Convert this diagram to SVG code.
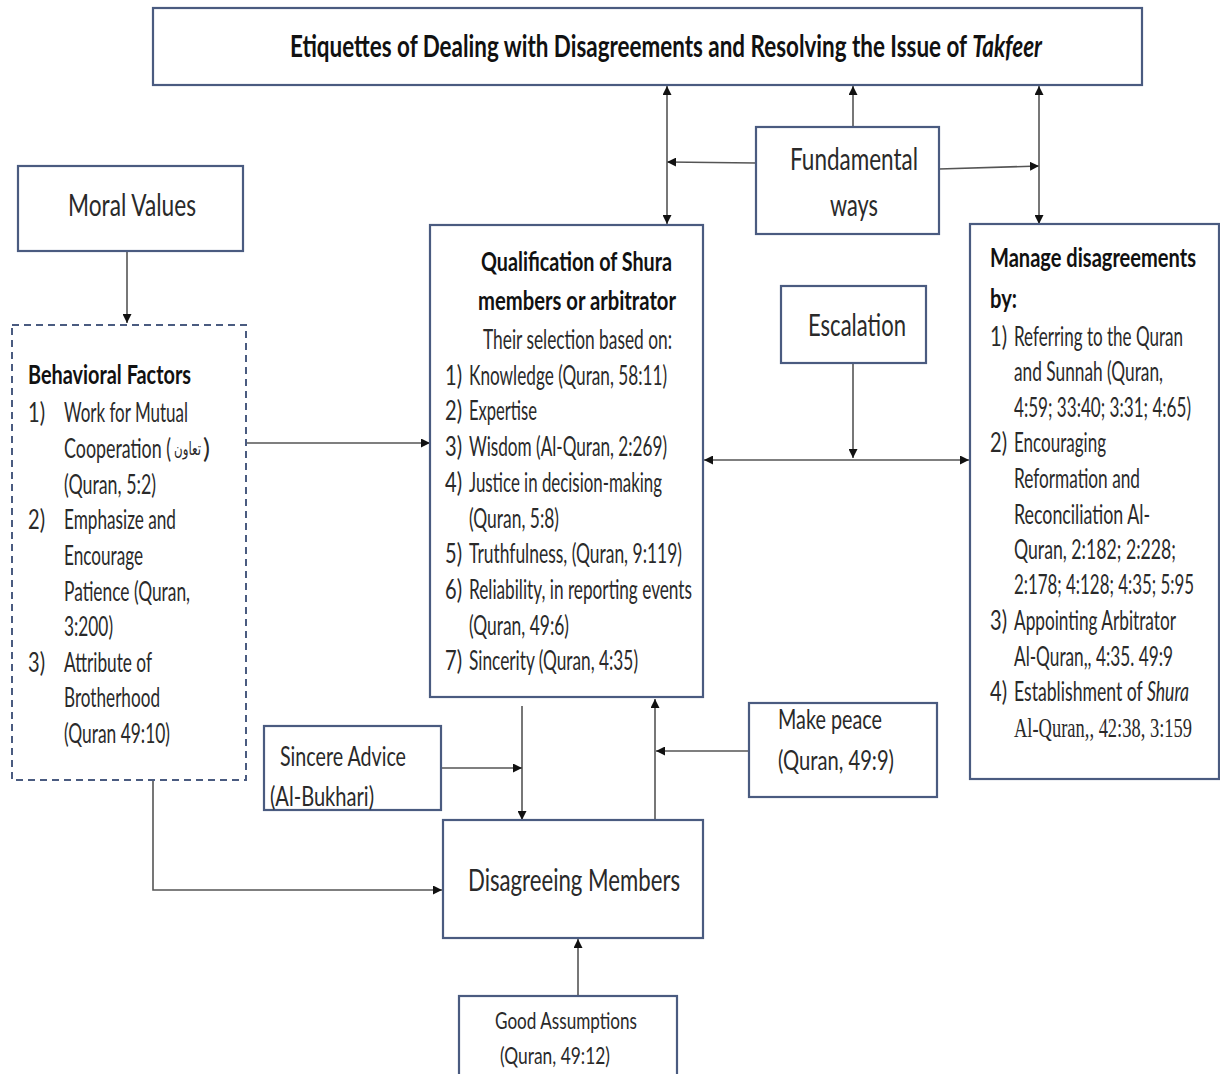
<svg xmlns="http://www.w3.org/2000/svg" width="1220" height="1074" viewBox="0 0 1220 1074">
<defs>
<style>
.box{fill:#fff;stroke:#4a5b80;stroke-width:2.2}
.dash{fill:#fff;stroke:#4a5b80;stroke-width:2;stroke-dasharray:7 5}
.t{font-family:Lato,"Liberation Sans",sans-serif;font-size:27px;fill:#2a2a2a}
.b{font-weight:bold;fill:#111}
.big{font-size:31px}
.sm{font-size:24px}
.ser{font-family:"Liberation Serif",serif}
.ar{font-family:"DejaVu Sans",sans-serif;font-size:18px;fill:#2a2a2a}
.c{fill:none;stroke:#555;stroke-width:1.6}
</style>
<marker id="ah" viewBox="0 0 10 10" refX="10" refY="5" markerWidth="9" markerHeight="9" markerUnits="userSpaceOnUse" orient="auto-start-reverse">
<path d="M0,0 L10,5 L0,10 Z" fill="#111"/>
</marker>
</defs>
<rect width="1220" height="1074" fill="#fff"/>

<g id="connectors">
<path class="c" d="M127,251 V323" marker-end="url(#ah)"/>
<path class="c" d="M246,443 H430" marker-end="url(#ah)"/>
<path class="c" d="M153,780 V890 H442" marker-end="url(#ah)"/>
<path class="c" d="M756,163 L667,162" marker-end="url(#ah)"/>
<path class="c" d="M667,86 V224" marker-start="url(#ah)" marker-end="url(#ah)"/>
<path class="c" d="M853,127 V86" marker-end="url(#ah)"/>
<path class="c" d="M939,169 L1039,166" marker-end="url(#ah)"/>
<path class="c" d="M1039,86 V224" marker-start="url(#ah)" marker-end="url(#ah)"/>
<path class="c" d="M853,363 V458" marker-end="url(#ah)"/>
<path class="c" d="M704,460 H969" marker-start="url(#ah)" marker-end="url(#ah)"/>
<path class="c" d="M522,706 V820" marker-end="url(#ah)"/>
<path class="c" d="M441,768 H522" marker-end="url(#ah)"/>
<path class="c" d="M655,820 V699" marker-end="url(#ah)"/>
<path class="c" d="M749,751 H656" marker-end="url(#ah)"/>
<path class="c" d="M578,996 V939" marker-end="url(#ah)"/>
</g>

<g id="title">
<rect class="box" x="153" y="8" width="989" height="77"/>
<text class="t b big" x="290" y="57" textLength="752" lengthAdjust="spacingAndGlyphs">Etiquettes of Dealing with Disagreements and Resolving the Issue of <tspan font-style="italic">Takfeer</tspan></text>
</g>

<g id="moral-values">
<rect class="box" x="18" y="166" width="225" height="85"/>
<text class="t big" x="68" y="216" textLength="128" lengthAdjust="spacingAndGlyphs">Moral Values</text>
</g>

<g id="behavioral-factors">
<rect class="dash" x="12" y="325" width="234" height="455"/>
<text class="t b" x="28" y="384" textLength="163" lengthAdjust="spacingAndGlyphs">Behavioral Factors</text>
<text class="t" x="28" y="422" textLength="17" lengthAdjust="spacingAndGlyphs">1)</text>
<text class="t" x="64" y="422" textLength="124" lengthAdjust="spacingAndGlyphs">Work for Mutual</text>
<text class="t" x="64" y="458" textLength="107" lengthAdjust="spacingAndGlyphs">Cooperation (</text>
<text class="ar" x="174" y="455" textLength="27" lengthAdjust="spacingAndGlyphs">تعاون</text>
<text class="t" x="203" y="458" textLength="7" lengthAdjust="spacingAndGlyphs">)</text>
<text class="t" x="64" y="494" textLength="92" lengthAdjust="spacingAndGlyphs">(Quran, 5:2)</text>
<text class="t" x="28" y="529" textLength="17" lengthAdjust="spacingAndGlyphs">2)</text>
<text class="t" x="64" y="529" textLength="112" lengthAdjust="spacingAndGlyphs">Emphasize and</text>
<text class="t" x="64" y="565" textLength="79" lengthAdjust="spacingAndGlyphs">Encourage</text>
<text class="t" x="64" y="601" textLength="126" lengthAdjust="spacingAndGlyphs">Patience (Quran,</text>
<text class="t" x="64" y="636" textLength="49" lengthAdjust="spacingAndGlyphs">3:200)</text>
<text class="t" x="28" y="672" textLength="17" lengthAdjust="spacingAndGlyphs">3)</text>
<text class="t" x="64" y="672" textLength="88" lengthAdjust="spacingAndGlyphs">Attribute of</text>
<text class="t" x="64" y="707" textLength="96" lengthAdjust="spacingAndGlyphs">Brotherhood</text>
<text class="t" x="64" y="743" textLength="106" lengthAdjust="spacingAndGlyphs">(Quran 49:10)</text>
</g>

<g id="qualification">
<rect class="box" x="430" y="225" width="273" height="472"/>
<text class="t b" x="481" y="271" textLength="191" lengthAdjust="spacingAndGlyphs">Qualification of Shura</text>
<text class="t b" x="478" y="310" textLength="198" lengthAdjust="spacingAndGlyphs">members or arbitrator</text>
<text class="t" x="483" y="349" textLength="189" lengthAdjust="spacingAndGlyphs">Their selection based on:</text>
<text class="t" x="445" y="385" textLength="17" lengthAdjust="spacingAndGlyphs">1)</text>
<text class="t" x="469" y="385" textLength="198" lengthAdjust="spacingAndGlyphs">Knowledge (Quran, 58:11)</text>
<text class="t" x="445" y="420" textLength="17" lengthAdjust="spacingAndGlyphs">2)</text>
<text class="t" x="469" y="420" textLength="68" lengthAdjust="spacingAndGlyphs">Expertise</text>
<text class="t" x="445" y="456" textLength="17" lengthAdjust="spacingAndGlyphs">3)</text>
<text class="t" x="469" y="456" textLength="198" lengthAdjust="spacingAndGlyphs">Wisdom (Al-Quran, 2:269)</text>
<text class="t" x="445" y="492" textLength="17" lengthAdjust="spacingAndGlyphs">4)</text>
<text class="t" x="469" y="492" textLength="193" lengthAdjust="spacingAndGlyphs">Justice in decision-making</text>
<text class="t" x="469" y="528" textLength="90" lengthAdjust="spacingAndGlyphs">(Quran, 5:8)</text>
<text class="t" x="445" y="563" textLength="17" lengthAdjust="spacingAndGlyphs">5)</text>
<text class="t" x="469" y="563" textLength="213" lengthAdjust="spacingAndGlyphs">Truthfulness, (Quran, 9:119)</text>
<text class="t" x="445" y="599" textLength="17" lengthAdjust="spacingAndGlyphs">6)</text>
<text class="t" x="469" y="599" textLength="223" lengthAdjust="spacingAndGlyphs">Reliability,  in reporting events</text>
<text class="t" x="469" y="635" textLength="100" lengthAdjust="spacingAndGlyphs">(Quran, 49:6)</text>
<text class="t" x="445" y="670" textLength="17" lengthAdjust="spacingAndGlyphs">7)</text>
<text class="t" x="469" y="670" textLength="169" lengthAdjust="spacingAndGlyphs">Sincerity (Quran, 4:35)</text>
</g>

<g id="fundamental-ways">
<rect class="box" x="756" y="127" width="183" height="107"/>
<text class="t big" x="790" y="170" textLength="128" lengthAdjust="spacingAndGlyphs">Fundamental</text>
<text class="t big" x="830" y="216" textLength="48" lengthAdjust="spacingAndGlyphs">ways</text>
</g>

<g id="escalation">
<rect class="box" x="781" y="286" width="145" height="77"/>
<text class="t big" x="808" y="336" textLength="98" lengthAdjust="spacingAndGlyphs">Escalation</text>
</g>

<g id="manage-disagreements">
<rect class="box" x="970" y="224" width="249" height="555"/>
<text class="t b" x="990" y="267" textLength="206" lengthAdjust="spacingAndGlyphs">Manage disagreements</text>
<text class="t b" x="990" y="308" textLength="27" lengthAdjust="spacingAndGlyphs">by:</text>
<text class="t" x="990" y="346" textLength="17" lengthAdjust="spacingAndGlyphs">1)</text>
<text class="t" x="1014" y="346" textLength="169" lengthAdjust="spacingAndGlyphs">Referring to the Quran</text>
<text class="t" x="1014" y="381" textLength="149" lengthAdjust="spacingAndGlyphs">and Sunnah (Quran,</text>
<text class="t" x="1014" y="417" textLength="177" lengthAdjust="spacingAndGlyphs">4:59; 33:40; 3:31; 4:65)</text>
<text class="t" x="990" y="452" textLength="17" lengthAdjust="spacingAndGlyphs">2)</text>
<text class="t" x="1014" y="452" textLength="92" lengthAdjust="spacingAndGlyphs">Encouraging</text>
<text class="t" x="1014" y="488" textLength="126" lengthAdjust="spacingAndGlyphs">Reformation and</text>
<text class="t" x="1014" y="524" textLength="136" lengthAdjust="spacingAndGlyphs">Reconciliation  Al-</text>
<text class="t" x="1014" y="559" textLength="162" lengthAdjust="spacingAndGlyphs">Quran, 2:182; 2:228;</text>
<text class="t" x="1014" y="594" textLength="180" lengthAdjust="spacingAndGlyphs">2:178; 4:128; 4:35; 5:95</text>
<text class="t" x="990" y="630" textLength="17" lengthAdjust="spacingAndGlyphs">3)</text>
<text class="t" x="1014" y="630" textLength="162" lengthAdjust="spacingAndGlyphs">Appointing Arbitrator</text>
<text class="t" x="1014" y="666" textLength="159" lengthAdjust="spacingAndGlyphs">Al-Quran,, 4:35. 49:9</text>
<text class="t" x="990" y="701" textLength="17" lengthAdjust="spacingAndGlyphs">4)</text>
<text class="t" x="1014" y="701" textLength="175" lengthAdjust="spacingAndGlyphs">Establishment of <tspan font-style="italic">Shura</tspan></text>
<text class="t ser" x="1014" y="737" textLength="178" lengthAdjust="spacingAndGlyphs">Al-Quran,, 42:38, 3:159</text>
</g>

<g id="sincere-advice">
<rect class="box" x="264" y="726" width="177" height="84"/>
<text class="t" x="280" y="766" textLength="126" lengthAdjust="spacingAndGlyphs">Sincere Advice</text>
<text class="t" x="270" y="806" textLength="104" lengthAdjust="spacingAndGlyphs">(Al-Bukhari)</text>
</g>

<g id="make-peace">
<rect class="box" x="749" y="703" width="188" height="94"/>
<text class="t" x="778" y="729" textLength="104" lengthAdjust="spacingAndGlyphs">Make peace</text>
<text class="t" x="778" y="770" textLength="116" lengthAdjust="spacingAndGlyphs">(Quran, 49:9)</text>
</g>

<g id="disagreeing-members">
<rect class="box" x="443" y="820" width="260" height="118"/>
<text class="t big" x="468" y="891" textLength="212" lengthAdjust="spacingAndGlyphs">Disagreeing Members</text>
</g>

<g id="good-assumptions">
<rect class="box" x="459" y="996" width="218" height="82"/>
<text class="t sm" x="495" y="1029" textLength="142" lengthAdjust="spacingAndGlyphs">Good Assumptions</text>
<text class="t sm" x="500" y="1064" textLength="110" lengthAdjust="spacingAndGlyphs">(Quran, 49:12)</text>
</g>
</svg>
